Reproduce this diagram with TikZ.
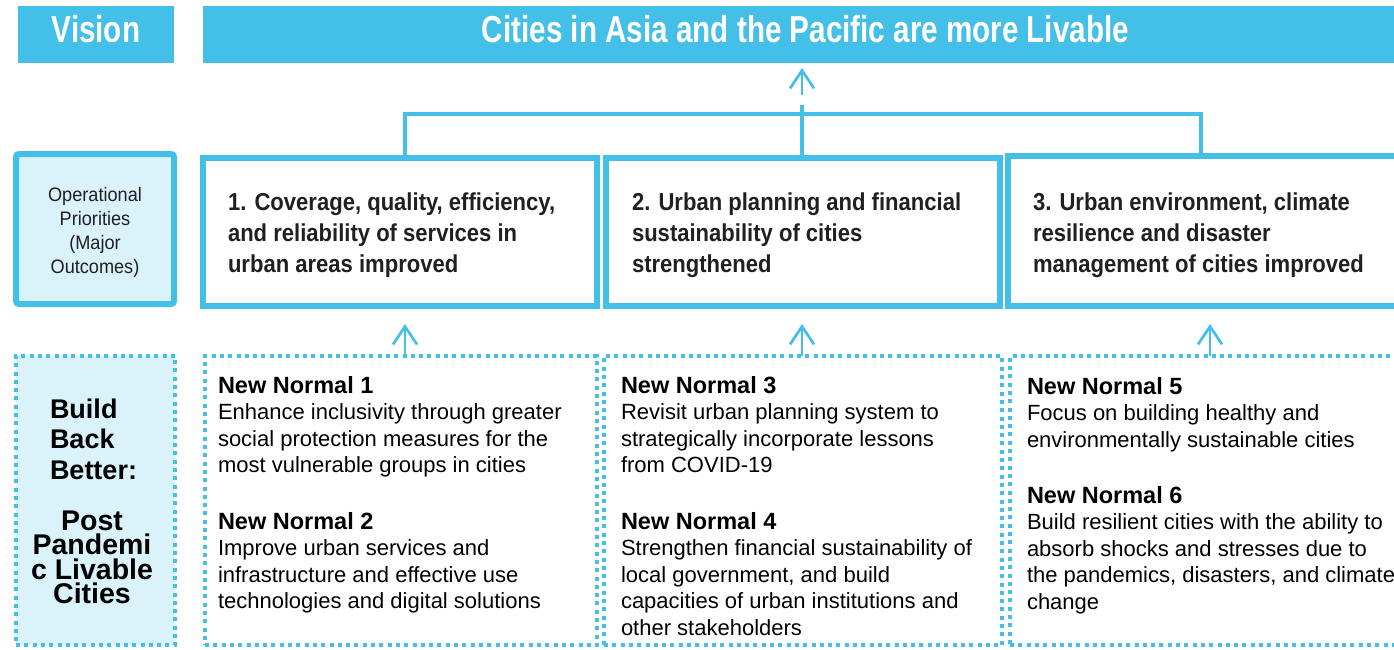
\documentclass[tikz,border=0pt]{standalone}
\usepackage{fontspec}
\setmainfont{Liberation Sans}
\newfontfamily\titlefont[FakeStretch=0.79]{Liberation Sans}
\newfontfamily\opfont[FakeStretch=0.90]{Liberation Sans}
\newfontfamily\oplabelfont[FakeStretch=0.93]{Liberation Sans}
\usetikzlibrary{arrows.meta}
\definecolor{cyanb}{HTML}{43BFE8}
\definecolor{lightb}{HTML}{DAF2FA}
\definecolor{darktxt}{HTML}{231F20}
\newcommand\nnheadfont{\fontsize{23.5}{26.5}\selectfont\bfseries}
\begin{document}
\begin{tikzpicture}[x=1pt,y=-1pt,
  every node/.style={outer sep=0pt, inner sep=0pt},
  banner/.style={fill=cyanb, draw=none},
  opbox/.style={draw=cyanb, line width=6pt, fill=white},
  dotbox/.style={draw=cyanb, line width=4pt, dash pattern=on 4pt off 4.3pt},
  bannertext/.style={text=white, font=\titlefont\bfseries\fontsize{37.5}{40}\selectfont},
  optext/.style={text=darktxt, align=left, font=\opfont\bfseries\fontsize{24.5}{31}\selectfont},
  nntext/.style={text=black, align=left, font=\fontsize{22}{26.5}\selectfont},
  uparrow/.style={draw=cyanb, line width=2.7pt, -{Straight Barb[length=18pt,width=24pt]}},
  bracketline/.style={draw=cyanb, line width=3.5pt}
]
\useasboundingbox (0,0) rectangle (1394,649);

% banners
\node[banner, minimum width=156pt, minimum height=57pt] (vision) at (96,34.5) {};
\node[banner, minimum width=1191pt, minimum height=57pt] (title) at (798.5,34.5) {};
\node[bannertext, anchor=base] (visiontext) at (96,42) {Vision};
\node[bannertext, anchor=base] (titletext) at (805.5,42) {Cities in Asia and the Pacific are more Livable};

% bracket and top arrow
\coordinate (bl) at (405,114);
\coordinate (br) at (1201,114);
\coordinate (bm) at (802,105);
\coordinate (tb) at (802,95);

% operational priorities row
\node[opbox, fill=lightb, rounded corners=3pt, minimum width=158pt, minimum height=150pt] (ops) at (95,229) {};
\node[opbox, minimum width=394pt, minimum height=148pt] (op1) at (400,232) {};
\node[opbox, minimum width=394pt, minimum height=148pt] (op2) at (803,232) {};
\node[opbox, minimum width=392pt, minimum height=150pt] (op3) at (1204,231) {};

\draw[bracketline] (bl |- op1.north) -- (bl) -- (br) -- (br |- op3.north);
\draw[bracketline] (bm) -- (bm |- op2.north);
\draw[uparrow, shorten >=5pt] (tb) -- (tb |- title.south);
% redraw box tops over bracket ends
\draw[cyanb, line width=6pt] (op1.north west) -- (op1.north east);
\draw[cyanb, line width=6pt] (op2.north west) -- (op2.north east);
\draw[cyanb, line width=6pt] (op3.north west) -- (op3.north east);

% (base anchor of a multi-line node = baseline of its last line)
\node[anchor=base, align=center, text=darktxt, font=\oplabelfont\fontsize{19.5}{24}\selectfont] (opslabel) at (95,273) {Operational\\Priorities\\(Major\\Outcomes)};
\node[optext, anchor=base west] (op1text) at (228,272) {1. Coverage, quality, efficiency,\\and reliability of services in\\urban areas improved};
\node[optext, anchor=base west] (op2text) at (632,272) {2. Urban planning and financial\\sustainability of cities\\strengthened};
\node[optext, anchor=base west] (op3text) at (1033,272) {3. Urban environment, climate\\resilience and disaster\\management of cities improved};

% build back better row
\node[dotbox, fill=lightb, minimum width=159pt, minimum height=289pt] (bbb) at (95.5,500.5) {};
\node[dotbox, minimum width=392pt, minimum height=289pt] (nn1) at (401,500.5) {};
\node[dotbox, minimum width=398pt, minimum height=289pt] (nn2) at (803,500.5) {};
\node[dotbox, minimum width=390pt, minimum height=289pt] (nn3) at (1205,500.5) {};

\node[anchor=base west, align=left, font=\fontsize{27}{30.5}\selectfont\bfseries] (bbbtext) at (50,479) {Build\\Back\\Better:};
\node[anchor=base, align=center, font=\fontsize{28.5}{24.5}\selectfont\bfseries] (posttext) at (92,603.5) {Post\\Pandemi\\c Livable\\Cities};

\node[nntext, anchor=base west] (nn1a) at (218,472.5) {{\nnheadfont New Normal 1}\\Enhance inclusivity through greater\\social protection measures for the\\most vulnerable groups in cities};
\node[nntext, anchor=base west] (nn1b) at (218,608.5) {{\nnheadfont New Normal 2}\\Improve urban services and\\infrastructure and effective use\\technologies and digital solutions};
\node[nntext, anchor=base west] (nn2a) at (621,472.5) {{\nnheadfont New Normal 3}\\Revisit urban planning system to\\strategically incorporate lessons\\from COVID-19};
\node[nntext, anchor=base west] (nn2b) at (621,635) {{\nnheadfont New Normal 4}\\Strengthen financial sustainability of\\local government, and build\\capacities of urban institutions and\\other stakeholders};
\node[nntext, anchor=base west] (nn3a) at (1027,447) {{\nnheadfont New Normal 5}\\Focus on building healthy and\\environmentally sustainable cities};
\node[nntext, anchor=base west] (nn3b) at (1027,609) {{\nnheadfont New Normal 6}\\Build resilient cities with the ability to\\absorb shocks and stresses due to\\the pandemics, disasters, and climate\\change};

% arrows from new normals to outcomes
\coordinate (u1) at (405,356);
\coordinate (u2) at (802,356);
\coordinate (u3) at (1210,356);
\draw[uparrow, shorten >=18pt] (u1) -- (u1 |- op1.south);
\draw[uparrow, shorten >=18pt] (u2) -- (u2 |- op2.south);
\draw[uparrow, shorten >=18pt] (u3) -- (u3 |- op3.south);
\end{tikzpicture}
\end{document}
